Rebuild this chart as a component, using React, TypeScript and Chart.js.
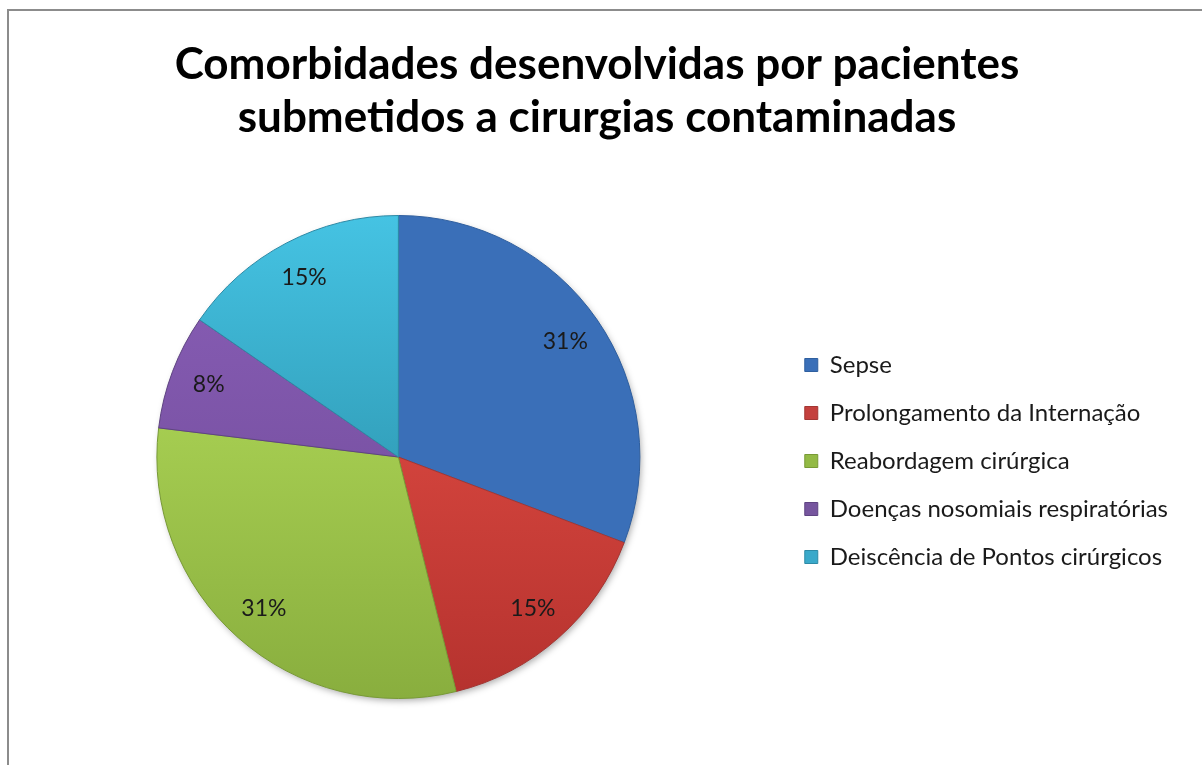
import React, { useEffect, useRef } from "react";
import { Chart, registerables } from "chart.js";

Chart.register(...registerables);

const titleLines = ["Comorbidades desenvolvidas por pacientes", "submetidos a cirurgias contaminadas"];
const categories = [
  "Sepse",
  "Prolongamento da Internação",
  "Reabordagem cirúrgica",
  "Doenças nosomiais respiratórias",
  "Deiscência de Pontos cirúrgicos",
];
const patientCounts = [4, 2, 4, 1, 2];
const topColors = ["#4A88DB", "#EE544A", "#BBE45F", "#8A5FB8", "#45C3E3"];
const bottomColors = ["#2F64AA", "#B5322E", "#89AE3E", "#6C4894", "#217F96"];
const edgeColors = ["#2F5F9F", "#A33633", "#789A36", "#5F4482", "#2D8AA6"];
const legendColors = ["#3A6FB8", "#C4403D", "#93BA45", "#76559E", "#3AA9CA"];

const FONT = "Lato, 'Open Sans', 'DejaVu Sans', sans-serif";

const framePlugin = {
  id: "frame",
  beforeDraw(chart: any) {
    const ctx = chart.ctx;
    ctx.save();
    ctx.fillStyle = "#ffffff";
    ctx.fillRect(0, 0, chart.width, chart.height);
    ctx.fillStyle = "#8c8c8c";
    ctx.fillRect(7, 9, chart.width, 2);
    ctx.fillRect(7, 9, 2, chart.height);
    ctx.restore();
  },
};

const shadowPlugin = {
  id: "pieShadow",
  beforeDatasetsDraw(chart: any) {
    const meta = chart.getDatasetMeta(0);
    const arc = meta.data[0];
    if (!arc) return;
    const { x, y, outerRadius } = arc.getProps(["x", "y", "outerRadius"], true);
    const ctx = chart.ctx;
    ctx.save();
    ctx.shadowColor = "rgba(0,0,0,0.35)";
    ctx.shadowBlur = 7;
    ctx.shadowOffsetX = 2;
    ctx.shadowOffsetY = 3;
    ctx.fillStyle = "#ffffff";
    ctx.beginPath();
    ctx.arc(x, y, outerRadius - 1, 0, Math.PI * 2);
    ctx.fill();
    ctx.restore();
  },
};

const percentPlugin = {
  id: "percentLabels",
  afterDatasetsDraw(chart: any) {
    const meta = chart.getDatasetMeta(0);
    const values: number[] = chart.data.datasets[0].data;
    const total = values.reduce((a, b) => a + b, 0);
    const ctx = chart.ctx;
    ctx.save();
    ctx.font = `23px ${FONT}`;
    ctx.fillStyle = "#1a1a1a";
    ctx.textAlign = "center";
    ctx.textBaseline = "middle";
    meta.data.forEach((arc: any, i: number) => {
      const { x, y, startAngle, endAngle, outerRadius } = arc.getProps(
        ["x", "y", "startAngle", "endAngle", "outerRadius"],
        true
      );
      const mid = (startAngle + endAngle) / 2;
      const r = outerRadius * 0.84;
      const pct = Math.round((values[i] / total) * 100) + "%";
      ctx.fillText(pct, x + Math.cos(mid) * r, y + Math.sin(mid) * r);
    });
    ctx.restore();
  },
};

function sliceFill(context: any) {
  const i = context.dataIndex;
  const chart = context.chart;
  const meta = chart.getDatasetMeta(0);
  const arc = meta && meta.data && meta.data[0];
  if (!chart.chartArea || !arc || !arc.outerRadius) return legendColors[i];
  const cy = arc.y;
  const R = arc.outerRadius;
  const g = chart.ctx.createLinearGradient(0, cy - R, 0, cy + R);
  g.addColorStop(0, topColors[i]);
  g.addColorStop(1, bottomColors[i]);
  return g;
}

export default function App() {
  const canvasRef = useRef<HTMLCanvasElement | null>(null);

  useEffect(() => {
    if (!canvasRef.current) return;
    const chart = new Chart(canvasRef.current, {
      type: "pie",
      data: {
        labels: categories,
        datasets: [
          {
            data: patientCounts,
            backgroundColor: sliceFill as any,
            borderColor: edgeColors,
            borderWidth: 1,
            hoverBorderWidth: 1,
            hoverOffset: 0,
          },
        ],
      },
      options: {
        responsive: false,
        animation: false,
        layout: { padding: { left: 16, right: 24, top: 0, bottom: 66 } },
        plugins: {
          tooltip: { enabled: false },
          title: {
            display: true,
            text: titleLines,
            color: "#000000",
            font: { family: FONT, size: 44, weight: "bold", lineHeight: 53 / 44 },
            padding: { top: 38, bottom: 71 },
          },
          legend: {
            display: true,
            position: "right",
            align: "center",
            fullSize: false,
            title: { display: true, text: " ", font: { size: 2, lineHeight: 1 }, padding: 3 },
            labels: {
              boxWidth: 13,
              boxHeight: 13,
              padding: 24,
              color: "#1a1a1a",
              font: { family: FONT, size: 24 },
              generateLabels: () =>
                categories.map((c, i) => ({
                  text: c,
                  fillStyle: legendColors[i],
                  strokeStyle: edgeColors[i],
                  lineWidth: 1,
                  hidden: false,
                  index: i,
                  fontColor: "#1a1a1a",
                })),
            },
          },
        },
      },
      plugins: [framePlugin, shadowPlugin, percentPlugin],
    });
    return () => chart.destroy();
  }, []);

  return (
    <div style={{ position: "absolute", left: 0, top: 0, width: 1202, height: 765, background: "#fff" }}>
      <canvas ref={canvasRef} width={1202} height={765} style={{ display: "block" }} />
    </div>
  );
}
